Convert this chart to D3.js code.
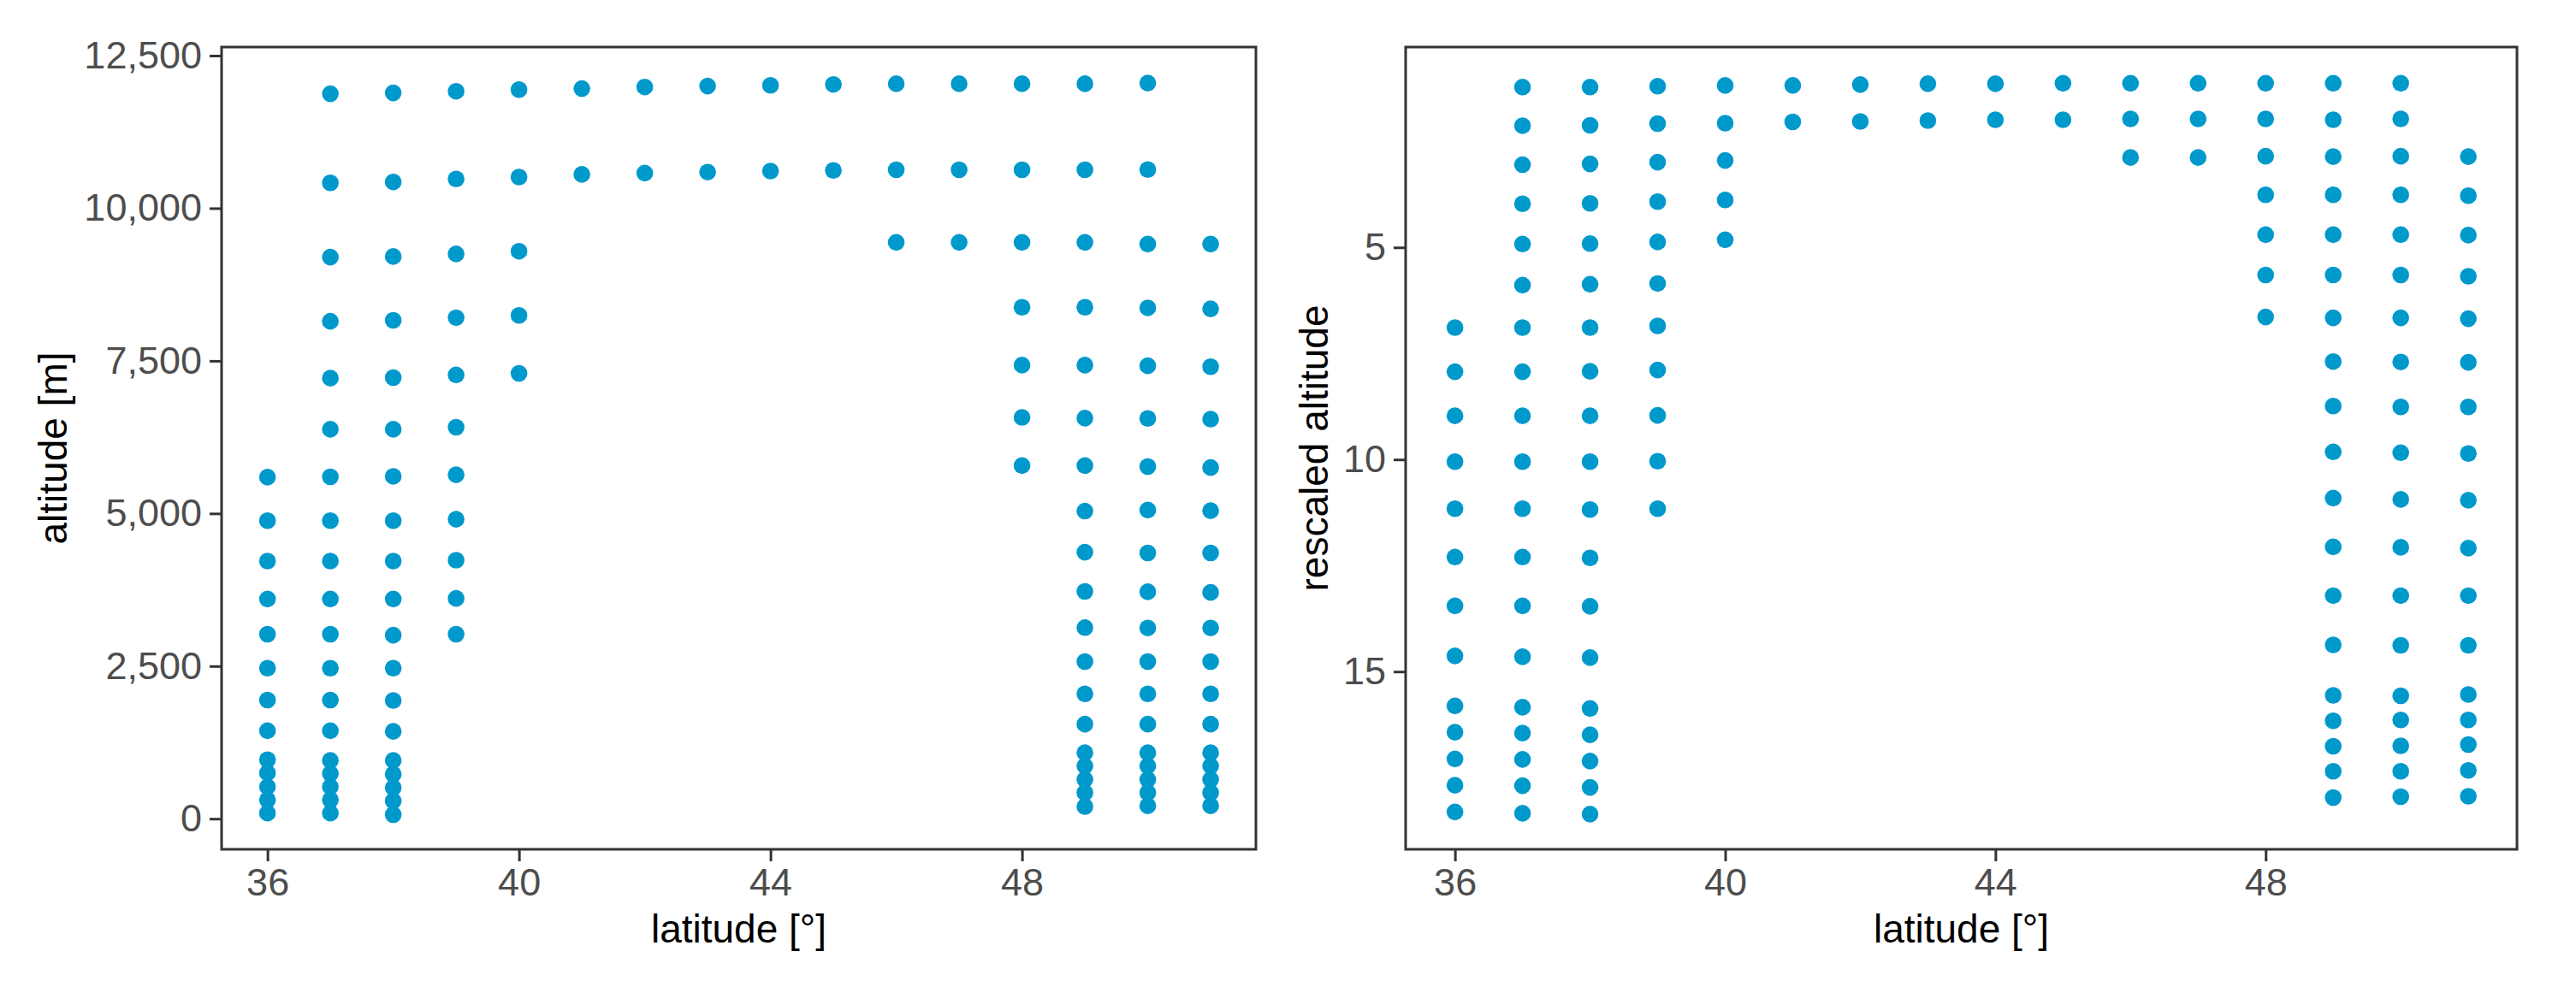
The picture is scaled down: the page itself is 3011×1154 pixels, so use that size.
<!DOCTYPE html>
<html lang="en">
<head>
  <meta charset="UTF-8">
  <title>Altitude by latitude</title>
  <style>
    body { margin: 0; background: #fff; }
    svg { display: block; background: #fff; }
    .tick-label { font: 45px "Liberation Sans", Arial, sans-serif; fill: #4d4d4d; }
    .axis-title { font: 46px "Liberation Sans", Arial, sans-serif; fill: #000; }
  </style>
</head>
<body>
  <svg width="3011" height="1154"></svg>
  <script src="https://d3js.org/d3.v7.min.js"></script>
  <script>
    // latitude columns, one entry per column of points
    const latitudes = [36, 37, 38, 39, 40, 41, 42, 43, 44, 45, 46, 47, 48, 49, 50, 51];

    // altitude [m] of each level, per latitude (same order as latitudes)
    const altitudeM = [
      [5595, 4882, 4220, 3599, 3022, 2466, 1943, 1441, 966, 751, 524, 308, 92],
      [11875, 10416, 9199, 8148, 7216, 6380, 5600, 4882, 4220, 3599, 3022, 2466, 1943, 1441, 955, 739, 524, 308, 92],
      [11889, 10431, 9209, 8164, 7225, 6380, 5608, 4882, 4220, 3599, 3006, 2466, 1937, 1430, 955, 728, 507, 291, 66],
      [11916, 10479, 9252, 8207, 7269, 6412, 5634, 4905, 4235, 3609, 3022],
      [11943, 10511, 9296, 8245, 7296],
      [11959, 10554],
      [11986, 10576],
      [12001, 10592],
      [12013, 10608],
      [12028, 10619],
      [12039, 10630, 9440],
      [12039, 10630, 9440],
      [12039, 10630, 9440, 8378, 7430, 6573, 5784],
      [12039, 10630, 9440, 8378, 7430, 6561, 5784, 5039, 4366, 3723, 3130, 2574, 2045, 1549, 1080, 864, 643, 427, 200],
      [12050, 10633, 9413, 8368, 7419, 6556, 5769, 5055, 4354, 3717, 3125, 2574, 2045, 1549, 1080, 864, 643, 427, 211],
      [9413, 8352, 7404, 6545, 5752, 5045, 4354, 3707, 3125, 2574, 2045, 1549, 1080, 864, 643, 427, 211]
    ];

    // rescaled altitude of the same levels
    const rescaledAlt = [
      [6.89, 7.93, 8.97, 10.05, 11.16, 12.30, 13.45, 14.63, 15.81, 16.43, 17.06, 17.68, 18.31],
      [1.22, 2.13, 3.05, 3.97, 4.92, 5.89, 6.89, 7.93, 8.97, 10.05, 11.16, 12.30, 13.45, 14.65, 15.84, 16.45, 17.07, 17.69, 18.34],
      [1.22, 2.12, 3.03, 3.96, 4.91, 5.87, 6.89, 7.92, 8.97, 10.05, 11.18, 12.32, 13.46, 14.67, 15.87, 16.49, 17.11, 17.73, 18.36],
      [1.20, 2.08, 2.99, 3.92, 4.87, 5.85, 6.85, 7.89, 8.96, 10.04, 11.16],
      [1.18, 2.07, 2.95, 3.88, 4.82],
      [1.18, 2.04],
      [1.16, 2.03],
      [1.14, 2.01],
      [1.14, 1.99],
      [1.13, 1.99],
      [1.13, 1.97, 2.88],
      [1.13, 1.97, 2.88],
      [1.13, 1.97, 2.85, 3.76, 4.70, 5.65, 6.64],
      [1.13, 1.99, 2.86, 3.76, 4.70, 5.65, 6.66, 7.69, 8.74, 9.82, 10.91, 12.06, 13.21, 14.37, 15.56, 16.16, 16.76, 17.35, 17.97],
      [1.13, 1.97, 2.85, 3.76, 4.70, 5.65, 6.66, 7.70, 8.76, 9.84, 10.94, 12.07, 13.21, 14.38, 15.57, 16.14, 16.75, 17.35, 17.95],
      [2.86, 3.78, 4.71, 5.68, 6.68, 7.71, 8.76, 9.86, 10.96, 12.09, 13.21, 14.38, 15.54, 16.14, 16.72, 17.33, 17.94]
    ];

    const xTicks = [36, 40, 44, 48];
    const altTicks = [0, 2500, 5000, 7500, 10000, 12500];
    const rescaledTicks = [5, 10, 15];

    const svg = d3.select("svg");
    const dotColor = "#0099cc";
    const plotTop = 55, plotBottom = 993;

    // flatten column arrays into points
    function toPoints(values) {
      const pts = [];
      latitudes.forEach(function(lat, i) {
        values[i].forEach(function(v) { pts.push({ lat: lat, v: v }); });
      });
      return pts;
    }

    function styleAxis(axisG) {
      axisG.attr("font-family", null).attr("font-size", null);
      axisG.select(".domain").remove();
      axisG.selectAll(".tick line").attr("stroke", "#333").attr("stroke-width", 3);
      axisG.selectAll(".tick text").attr("class", "tick-label").attr("fill", null);
    }

    function drawPanel(opts) {
      const x = d3.scaleLinear().domain([35.27, 51.72]).range([opts.left, opts.right]);
      const y = d3.scaleLinear().domain(opts.yDomain).range([plotBottom, plotTop]);
      const g = svg.append("g");

      // points
      g.append("g").selectAll("circle")
        .data(toPoints(opts.values))
        .join("circle")
        .attr("cx", d => x(d.lat))
        .attr("cy", d => y(d.v))
        .attr("r", 9.8)
        .attr("fill", dotColor);

      // panel border
      g.append("rect")
        .attr("x", opts.left).attr("y", plotTop)
        .attr("width", opts.right - opts.left).attr("height", plotBottom - plotTop)
        .attr("fill", "none").attr("stroke", "#333").attr("stroke-width", 3);

      // x axis
      const xAxis = g.append("g")
        .attr("transform", "translate(0," + plotBottom + ")")
        .call(d3.axisBottom(x).tickValues(xTicks).tickSize(14).tickPadding(8).tickFormat(d3.format("d")));
      styleAxis(xAxis);

      // y axis
      const yAxis = g.append("g")
        .attr("transform", "translate(" + opts.left + ",0)")
        .call(d3.axisLeft(y).tickValues(opts.yTicks).tickSize(14).tickPadding(9).tickFormat(opts.yFormat));
      styleAxis(yAxis);

      // titles
      g.append("text")
        .attr("class", "axis-title")
        .attr("x", (opts.left + opts.right) / 2).attr("y", 1102)
        .attr("text-anchor", "middle")
        .text("latitude [°]");

      g.append("text")
        .attr("class", "axis-title")
        .attr("transform", "translate(" + opts.yTitleX + "," + (plotTop + plotBottom) / 2 + ") rotate(-90)")
        .attr("text-anchor", "middle")
        .attr("dy", "0.35em")
        .text(opts.yTitle);
    }

    drawPanel({
      left: 259, right: 1468,
      yDomain: [-501, 12640],
      values: altitudeM,
      yTicks: altTicks,
      yFormat: d3.format(","),
      yTitle: "altitude [m]",
      yTitleX: 62
    });

    // rescaled altitude axis runs downwards
    drawPanel({
      left: 1643, right: 2942,
      yDomain: [19.19, 0.276],
      values: rescaledAlt,
      yTicks: rescaledTicks,
      yFormat: d3.format("d"),
      yTitle: "rescaled altitude",
      yTitleX: 1536
    });
  </script>
</body>
</html>
